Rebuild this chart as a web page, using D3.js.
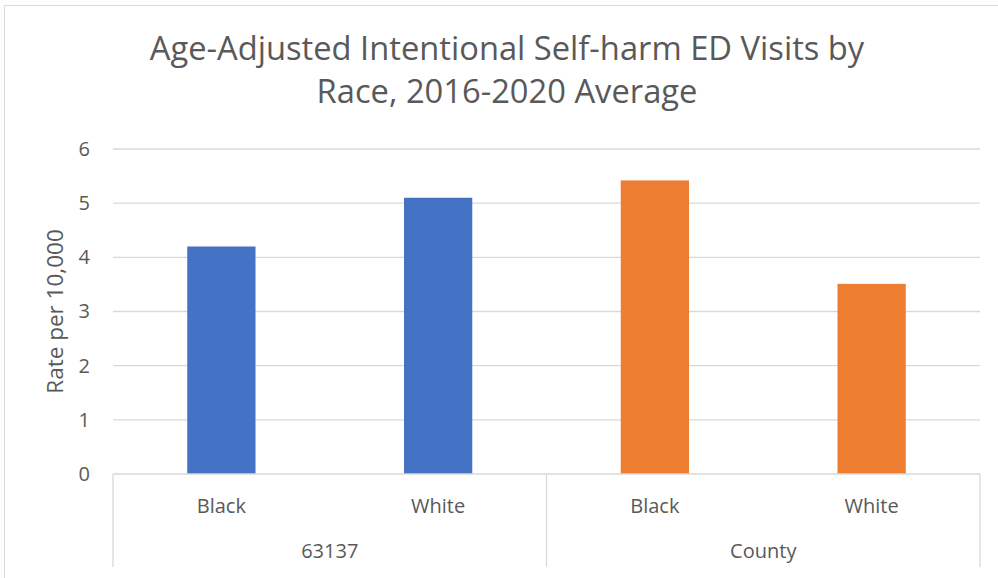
<!DOCTYPE html>
<html><head><meta charset="utf-8">
<script src="https://cdn.jsdelivr.net/npm/d3@7"></script>
<style>
html,body{margin:0;padding:0;background:#fff;}
text{font-family:"Open Sans","Noto Sans",sans-serif;fill:#595959;}
</style></head>
<body><svg id="c" width="998" height="578"></svg>
<script>
const titleLines = ["Age-Adjusted Intentional Self-harm ED Visits by", "Race, 2016-2020 Average"];
const groups = ["63137", "County"];
const races = ["Black", "White"];
const values63137 = [4.2, 5.1];
const valuesCounty = [5.42, 3.51];
const groupColors = ["#4472C4", "#ED7D31"];
const yTicks = [0, 1, 2, 3, 4, 5, 6];
const yTitle = "Rate per 10,000";

const rows = [];
[values63137, valuesCounty].forEach((vals, gi) => {
  races.forEach((r, ri) => rows.push({group: groups[gi], race: r, value: vals[ri], gi, key: groups[gi] + "|" + r}));
});

const svg = d3.select("#c");
const W = 998, H = 578;
const m = {left: 113, right: 18, top: 149, bottom: 104};
const pw = W - m.left - m.right, ph = H - m.top - m.bottom;

// chart border
svg.append("path").attr("d", `M${W},5.5 H4.5 V${H}`).attr("fill", "none").attr("stroke", "#D9D9D9").attr("stroke-width", 1);

const x = d3.scaleBand().domain(rows.map(d => d.key)).range([m.left, m.left + pw]).paddingInner(0.685).paddingOuter(0.3425);
const xg = d3.scaleBand().domain(groups).range([m.left, m.left + pw]);
const y = d3.scaleLinear().domain([0, 6]).range([m.top + ph, m.top]);

// gridlines
svg.append("g").selectAll("line").data(yTicks.filter(t => t > 0)).join("line")
  .attr("x1", m.left).attr("x2", m.left + pw)
  .attr("y1", d => y(d)).attr("y2", d => y(d))
  .attr("stroke", "#D9D9D9").attr("stroke-width", 1.3);

// y axis labels
const yAxis = d3.axisLeft(y).tickValues(yTicks).tickSize(0).tickPadding(23).tickFormat(d3.format("d"));
const ya = svg.append("g").attr("transform", `translate(${m.left},0)`).call(yAxis);
ya.select(".domain").remove();
ya.selectAll("text").style("font-size", "20px").attr("fill", "#595959").style("font-family", '"Open Sans","Noto Sans",sans-serif');

// bars
svg.append("g").selectAll("rect").data(rows).join("rect")
  .attr("x", d => x(d.key)).attr("width", x.bandwidth())
  .attr("y", d => y(d.value)).attr("height", d => y(0) - y(d.value))
  .attr("fill", d => groupColors[d.gi]);

// category axis lines
const y0 = y(0);
const axisG = svg.append("g").attr("stroke", "#D9D9D9").attr("stroke-width", 1.3);
axisG.append("line").attr("x1", m.left).attr("x2", m.left + pw).attr("y1", y0).attr("y2", y0);
const dividers = [m.left, ...groups.map(g => xg(g) + xg.bandwidth())];
axisG.selectAll("line.div").data(dividers).join("line").attr("class", "div")
  .attr("x1", d => d).attr("x2", d => d).attr("y1", y0).attr("y2", 567);

// race labels
svg.append("g").selectAll("text").data(rows).join("text")
  .attr("x", d => x(d.key) + x.bandwidth() / 2).attr("y", 513)
  .attr("text-anchor", "middle").style("font-size", "20px").text(d => d.race);
// group labels
svg.append("g").selectAll("text").data(groups).join("text")
  .attr("x", d => xg(d) + xg.bandwidth() / 2).attr("y", 558)
  .attr("text-anchor", "middle").style("font-size", "20px").text(d => d);

// y title
svg.append("text").attr("transform", `translate(63,${y(3)}) rotate(-90)`)
  .attr("text-anchor", "middle").style("font-size", "22.5px").text(yTitle);

// title
svg.append("g").selectAll("text").data(titleLines).join("text")
  .attr("x", 507).attr("y", (d, i) => 60 + i * 43)
  .attr("text-anchor", "middle").style("font-size", "32.7px").text(d => d);
</script></body></html>
